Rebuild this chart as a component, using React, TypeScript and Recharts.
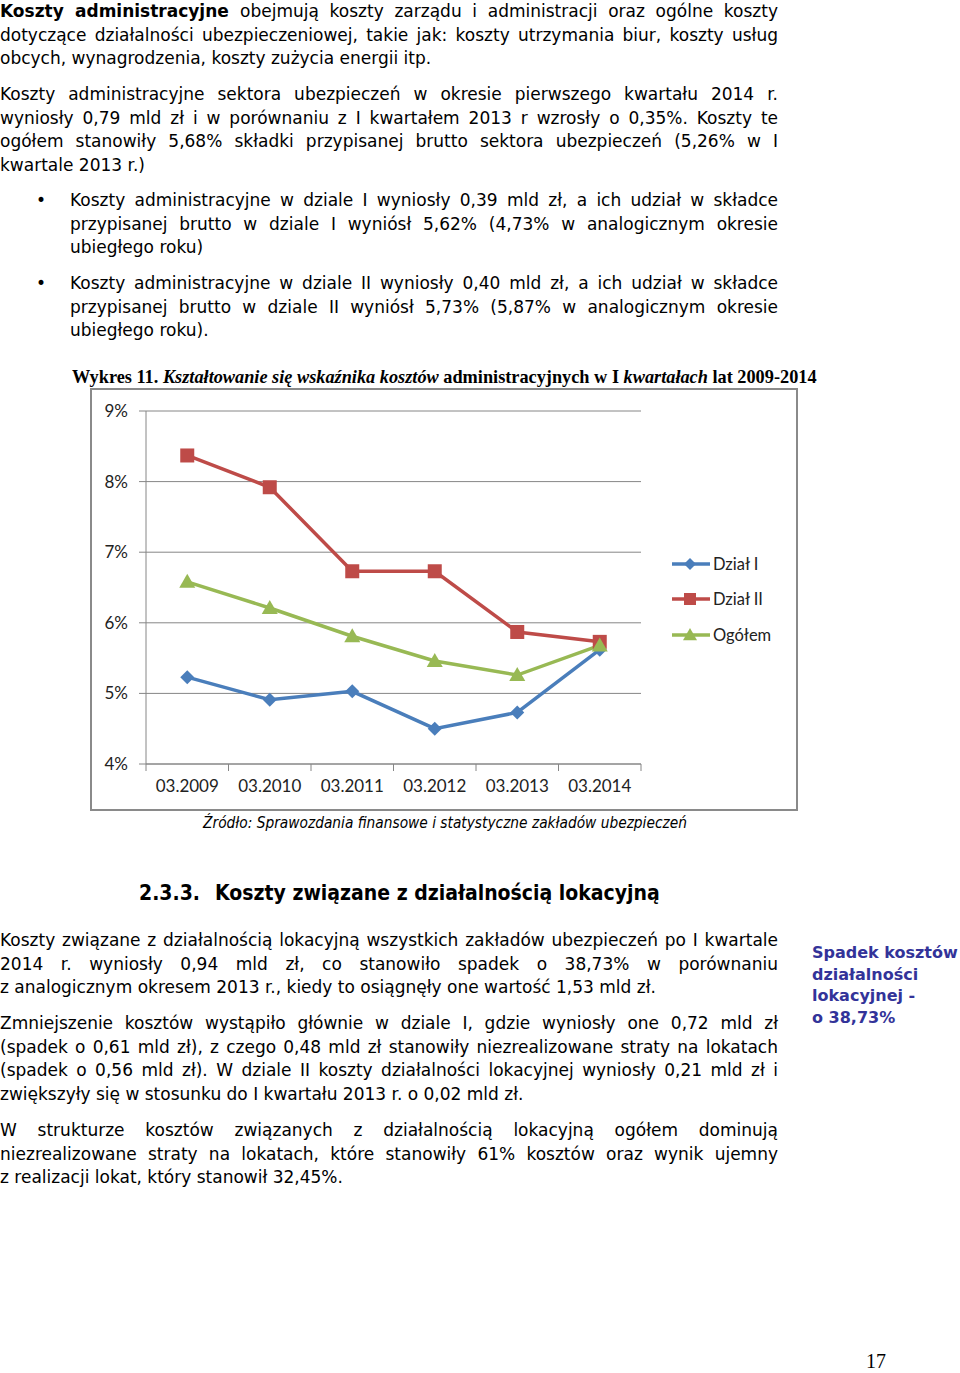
import React from 'react'
import { LineChart, Line, XAxis, YAxis, CartesianGrid } from 'recharts'

// --- chart data ---
const periods = ['03.2009', '03.2010', '03.2011', '03.2012', '03.2013', '03.2014']
const dzialI = [5.23, 4.91, 5.03, 4.5, 4.73, 5.62]
const dzialII = [8.37, 7.92, 6.73, 6.73, 5.87, 5.73]
const ogolem = [6.58, 6.21, 5.81, 5.46, 5.26, 5.68]
const yTicks = [4, 5, 6, 7, 8, 9]

const series = [
  { key: 'd1', name: 'Dział I', color: '#4a7ebb', shape: 'diamond', values: dzialI },
  { key: 'd2', name: 'Dział II', color: '#be4b48', shape: 'square', values: dzialII },
  { key: 'all', name: 'Ogółem', color: '#98b954', shape: 'triangle', values: ogolem },
]

const data = periods.map((p, i) => {
  const row: any = { period: p }
  series.forEach(s => { row[s.key] = s.values[i] })
  return row
})

// --- page text ---
const para1 = [
  'obejmują koszty zarządu i administracji oraz ogólne koszty',
  'dotyczące działalności ubezpieczeniowej, takie jak: koszty utrzymania biur, koszty usług',
  'obcych, wynagrodzenia, koszty zużycia energii itp.',
]
const para2 = [
  'Koszty administracyjne sektora ubezpieczeń w okresie pierwszego kwartału 2014 r.',
  'wyniosły 0,79 mld zł i w porównaniu z I kwartałem 2013 r wzrosły o 0,35%. Koszty te',
  'ogółem stanowiły 5,68% składki przypisanej brutto sektora ubezpieczeń (5,26% w I',
  'kwartale 2013 r.)',
]
const bullet1 = [
  'Koszty administracyjne w dziale I wyniosły 0,39 mld zł, a ich udział w składce',
  'przypisanej brutto w dziale I wyniósł 5,62% (4,73% w analogicznym okresie',
  'ubiegłego roku)',
]
const bullet2 = [
  'Koszty administracyjne w dziale II wyniosły 0,40 mld zł, a ich udział w składce',
  'przypisanej brutto w dziale II wyniósł 5,73% (5,87% w analogicznym okresie',
  'ubiegłego roku).',
]
const para3 = [
  'Koszty związane z działalnością lokacyjną wszystkich zakładów ubezpieczeń po I kwartale',
  '2014 r. wyniosły 0,94 mld zł, co stanowiło spadek o 38,73% w porównaniu',
  'z analogicznym okresem 2013 r., kiedy to osiągnęły one wartość 1,53 mld zł.',
]
const para4 = [
  'Zmniejszenie kosztów wystąpiło głównie w dziale I, gdzie wyniosły one 0,72 mld zł',
  '(spadek o 0,61 mld zł), z czego 0,48 mld zł stanowiły niezrealizowane straty na lokatach',
  '(spadek o 0,56 mld zł). W dziale II koszty działalności lokacyjnej wyniosły 0,21 mld zł i',
  'zwiększyły się w stosunku do I kwartału 2013 r. o 0,02 mld zł.',
]
const para5 = [
  'W strukturze kosztów związanych z działalnością lokacyjną ogółem dominują',
  'niezrealizowane straty na lokatach, które stanowiły 61% kosztów oraz wynik ujemny',
  'z realizacji lokat, który stanowił 32,45%.',
]
const sideNote = ['Spadek kosztów', 'działalności', 'lokacyjnej -', 'o 38,73%']

const BODY_FONT = "'DejaVu Sans', sans-serif"
const COND_FONT = "'DejaVu Sans Condensed', 'DejaVu Sans', sans-serif"
const CHART_FONT = "Lato, 'Open Sans', sans-serif"
const LH = 23.5
const AXIS = '#868686'

const CHART_W = 708
const CHART_H = 423
const MARGIN = { top: 23, right: 157, bottom: 17, left: 0 }
const Y_W = 56
const PLOT_W = CHART_W - MARGIN.right - MARGIN.left - Y_W
const HALF = PLOT_W / periods.length / 2

function Marker({ shape, cx, cy, color, size = 7 }: any) {
  if (cx == null || cy == null) return null
  if (shape === 'square') {
    return <rect x={cx - size} y={cy - size} width={size * 2} height={size * 2} fill={color} />
  }
  if (shape === 'triangle') {
    const s = size + 1
    return <polygon points={`${cx},${cy - s} ${cx + s},${cy + s * 0.75} ${cx - s},${cy + s * 0.75}`} fill={color} />
  }
  return <polygon points={`${cx},${cy - size} ${cx + size},${cy} ${cx},${cy + size} ${cx - size},${cy}`} fill={color} />
}

function XTick({ x, y, payload, index }: any) {
  return (
    <g>
      <line x1={x - HALF} x2={x - HALF} y1={y} y2={y + 7} stroke={AXIS} />
      {index === periods.length - 1 && <line x1={x + HALF} x2={x + HALF} y1={y} y2={y + 7} stroke={AXIS} />}
      <text x={x} y={y + 24} textAnchor="middle" dominantBaseline="middle" fontSize={17} fill="#222" fontFamily={CHART_FONT}>
        {payload.value}
      </text>
    </g>
  )
}

function Lines({ lines, top, left, width, first }: any) {
  return (
    <div style={{ position: 'absolute', top, left, width }}>
      {lines.map((t: string, i: number) => (
        <div key={i} style={{ height: LH, lineHeight: LH + 'px', textAlign: 'justify', textAlignLast: i === lines.length - 1 ? 'left' : 'justify' }}>
          {i === 0 && first}{t}
        </div>
      ))}
    </div>
  )
}

export default function App() {
  return (
    <div style={{ position: 'absolute', left: 0, top: 0, width: 960, height: 1373, overflow: 'hidden', background: '#fff', color: '#000', fontFamily: BODY_FONT, fontSize: 17 }}>
      <Lines lines={para1} top={0} left={0} width={778} first={<b>Koszty administracyjne </b>} />
      <Lines lines={para2} top={83} left={0} width={778} />
      <div style={{ position: 'absolute', left: 36, top: 189, lineHeight: LH + 'px' }}>•</div>
      <Lines lines={bullet1} top={189} left={70} width={708} />
      <div style={{ position: 'absolute', left: 36, top: 272, lineHeight: LH + 'px' }}>•</div>
      <Lines lines={bullet2} top={272} left={70} width={708} />

      <div style={{ position: 'absolute', left: 72, top: 366, whiteSpace: 'nowrap', fontFamily: "'Liberation Serif', serif", fontWeight: 'bold', fontSize: 18.3, lineHeight: '22px' }}>
        Wykres 11. <i>Kształtowanie się wskaźnika kosztów</i> administracyjnych w I <i>kwartałach</i> lat 2009-2014
      </div>

      <div style={{ position: 'absolute', left: 90, top: 388, width: CHART_W, height: CHART_H, border: '2px solid #8a8a8a', boxSizing: 'border-box' }} />
      <div style={{ position: 'absolute', left: 90, top: 388 }}>
        <LineChart width={CHART_W} height={CHART_H} data={data} margin={MARGIN}>
          <CartesianGrid horizontal vertical={false} stroke={AXIS} strokeWidth={1} />
          <XAxis
            dataKey="period"
            padding={{ left: HALF, right: HALF }}
            interval={0}
            tickLine={false}
            tickSize={0}
            tickMargin={0}
            height={30}
            stroke={AXIS}
            tick={<XTick />}
          />
          <YAxis
            type="number"
            domain={[4, 9]}
            ticks={yTicks}
            width={Y_W}
            tickSize={7}
            tickMargin={11}
            stroke={AXIS}
            tick={{ fill: '#222', fontSize: 17, fontFamily: CHART_FONT }}
            tickFormatter={(v: number) => v + '%'}
          />
          {series.map(s => (
            <Line
              key={s.key}
              dataKey={s.key}
              name={s.name}
              type="linear"
              stroke={s.color}
              strokeWidth={3.5}
              isAnimationActive={false}
              dot={(p: any) => <Marker key={`${s.key}-${p.index}`} shape={s.shape} cx={p.cx} cy={p.cy} color={s.color} />}
              activeDot={false}
            />
          ))}
        </LineChart>
      </div>

      <div style={{ position: 'absolute', left: 670, top: 546, fontFamily: CHART_FONT, fontSize: 16.5, color: '#222' }}>
        {series.map(s => (
          <div key={s.key} style={{ display: 'flex', alignItems: 'center', height: 35.5 }}>
            <svg width={42} height={20}>
              <line x1={2} x2={40} y1={10} y2={10} stroke={s.color} strokeWidth={3.5} />
              <Marker shape={s.shape} cx={20} cy={10} color={s.color} size={6} />
            </svg>
            <span style={{ marginLeft: 1 }}>{s.name}</span>
          </div>
        ))}
      </div>

      <div style={{ position: 'absolute', left: 0, width: 890, top: 812, textAlign: 'center', fontStyle: 'italic', fontSize: 15.3, lineHeight: '22px', fontFamily: COND_FONT }}>
        Źródło: Sprawozdania finansowe i statystyczne zakładów ubezpieczeń
      </div>

      <div style={{ position: 'absolute', left: 139, top: 879, fontWeight: 'bold', fontSize: 21, lineHeight: '28px', whiteSpace: 'nowrap', fontFamily: COND_FONT }}>
        2.3.3.<span style={{ marginLeft: 15 }}>Koszty związane z działalnością lokacyjną</span>
      </div>

      <Lines lines={para3} top={929} left={0} width={778} />
      <Lines lines={para4} top={1012} left={0} width={778} />
      <Lines lines={para5} top={1119} left={0} width={778} />

      <div style={{ position: 'absolute', left: 812, top: 942, color: '#333399', fontWeight: 'bold', fontSize: 16, lineHeight: '21.7px', fontFamily: BODY_FONT }}>
        {sideNote.map((t, i) => <div key={i}>{t}</div>)}
      </div>

      <div style={{ position: 'absolute', left: 866, top: 1349, fontFamily: "'Liberation Serif', serif", fontSize: 20, lineHeight: '24px' }}>17</div>
    </div>
  )
}
